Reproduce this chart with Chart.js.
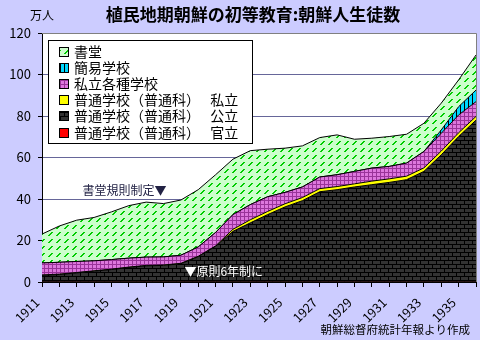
<!DOCTYPE html>
<html lang="ja">
<head>
<meta charset="utf-8">
<title>植民地期朝鮮の初等教育</title>
<script src="https://cdn.jsdelivr.net/npm/chart.js@4.4.1/dist/chart.umd.min.js"></script>
<style>
  html, body { margin: 0; padding: 0; background: #ccccff; }
  #wrap { width: 480px; height: 340px; }
</style>
</head>
<body>
<div id="wrap"><canvas id="chart" width="480" height="340"></canvas></div>
<script>
// 朝鮮人生徒数（万人）, 1911-1936
const years = ["1911","1912","1913","1914","1915","1916","1917","1918","1919","1920","1921","1922","1923",
  "1924","1925","1926","1927","1928","1929","1930","1931","1932","1933","1934","1935","1936"];

const futsuKanritsu = [0.1,0.1,0.1,0.1,0.1,0.1,0.1,0.1,0.1,0.1,0.1,0.1,0.1,
  0.1,0.1,0.1,0.1,0.1,0.1,0.1,0.1,0.1,0.1,0.1,0.1,0.1];
const futsuKoritsu = [3.1,3.5,4.3,5.1,5.9,6.9,7.7,7.9,8.7,12.1,17.1,24.3,28.4,
  32.4,36.1,39.1,43.4,44.4,45.7,46.8,47.9,49.2,53.2,61.2,70.0,77.9];
const futsuShiritsu = [0.2,0.2,0.2,0.2,0.2,0.2,0.2,0.2,0.2,0.2,0.2,1.0,1.5,
  1.5,1.5,1.5,1.5,1.5,1.5,1.7,1.7,1.7,1.7,1.8,1.8,1.8];
const kakushuGakko = [5.8,5.7,5.3,4.8,4.6,4.3,4.0,3.9,3.9,4.5,6.5,7.1,7.3,
  7.1,5.5,5.1,5.6,5.7,6.0,6.3,6.0,6.3,7.9,8.6,8.6,7.1];
const kaniGakko = [0,0,0,0,0,0,0,0,0,0,0,0,0,
  0,0,0,0,0,0,0,0,0,0,1.6,4.0,5.6];
const shodo = [13.9,17.5,19.9,20.9,23.0,25.3,26.5,25.7,26.6,27.6,27.8,26.7,26.0,
  22.9,21.3,19.8,19.0,19.2,15.5,14.4,14.4,13.9,13.6,12.9,12.9,16.9];

const yTicks = [0, 20, 40, 60, 80, 100, 120];

const JP = "'Noto Sans CJK JP', sans-serif";

// hatch fills
function makePattern(w, h, draw) {
  const c = document.createElement('canvas');
  c.width = w; c.height = h;
  const g = c.getContext('2d');
  draw(g);
  return g.createPattern(c, 'repeat');
}

const shodoFill = makePattern(8, 7, g => {
  g.fillStyle = '#ccffcc'; g.fillRect(0, 0, 8, 7);
  g.fillStyle = '#00cc00';
  g.fillRect(0, 4, 2, 1); g.fillRect(1, 3, 2, 1); g.fillRect(2, 2, 2, 1); g.fillRect(3, 1, 2, 1);
});
const kaniFill = makePattern(4, 4, g => {
  g.fillStyle = '#00d8ff'; g.fillRect(0, 0, 4, 4);
  g.fillStyle = '#000'; g.fillRect(0, 0, 1, 4);
});
const kakushuFill = makePattern(4, 4, g => {
  g.fillStyle = '#dd77dd'; g.fillRect(0, 0, 4, 4);
  g.fillStyle = '#993399'; g.fillRect(0, 0, 4, 1); g.fillRect(0, 0, 1, 4);
});
const koritsuFill = makePattern(8, 8, g => {
  g.fillStyle = '#333333'; g.fillRect(0, 0, 8, 8);
  g.fillStyle = '#000';
  g.fillRect(0, 0, 8, 1); g.fillRect(0, 4, 8, 1);
  g.fillRect(0, 0, 1, 4); g.fillRect(4, 4, 1, 4);
});

function layer(label, data, fill, bg) {
  return {
    label, data, fill, backgroundColor: bg,
    borderColor: '#000', borderWidth: 1, pointRadius: 0, tension: 0
  };
}

const datasets = [
  layer('普通学校（普通科）　 官立', futsuKanritsu, 'origin', '#ff0000'),
  layer('普通学校（普通科）　 公立', futsuKoritsu, '-1', koritsuFill),
  layer('普通学校（普通科）　 私立', futsuShiritsu, '-1', '#ffff00'),
  layer('私立各種学校', kakushuGakko, '-1', kakushuFill),
  layer('簡易学校', kaniGakko, '-1', kaniFill),
  layer('書堂', shodo, '-1', shodoFill)
];

const decor = {
  id: 'decor',
  beforeDraw(chart) {
    const { ctx, chartArea: a } = chart;
    ctx.save();
    ctx.fillStyle = '#ccccff';
    ctx.fillRect(0, 0, chart.width, chart.height);
    ctx.fillStyle = '#ffffff';
    ctx.fillRect(a.left, a.top, a.right - a.left, a.bottom - a.top);
    ctx.restore();
  },
  afterDraw(chart) {
    const { ctx, chartArea: a, scales } = chart;
    const x = scales.x, y = scales.y;
    ctx.save();

    // frame on the top and right
    ctx.strokeStyle = '#808080';
    ctx.lineWidth = 1;
    ctx.beginPath();
    ctx.moveTo(a.left, a.top + 0.5);
    ctx.lineTo(a.right + 0.5, a.top + 0.5);
    ctx.lineTo(a.right + 0.5, a.bottom);
    ctx.stroke();

    // title and unit
    ctx.fillStyle = '#000';
    ctx.textBaseline = 'middle';
    ctx.font = 'bold 17px ' + JP;
    ctx.textAlign = 'center';
    ctx.fillText('植民地期朝鮮の初等教育:朝鮮人生徒数', 253, 15);
    ctx.font = '12px ' + JP;
    ctx.textAlign = 'left';
    ctx.fillText('万人', 30, 15);

    // notes
    ctx.font = '12px ' + JP;
    ctx.fillStyle = '#222244';
    ctx.textAlign = 'right';
    ctx.fillText('書堂規則制定▼', x.getPixelForValue(7) + 3, y.getPixelForValue(44));
    ctx.fillStyle = '#ffffff';
    ctx.textAlign = 'left';
    ctx.fillText('▼原則6年制に', x.getPixelForValue(8.55) - 6, y.getPixelForValue(5));

    ctx.fillStyle = '#000';
    ctx.textAlign = 'right';
    ctx.font = '11.5px ' + JP;
    ctx.fillText('朝鮮総督府統計年報より作成', 470, 330);

    // legend
    const bx = 48, by = 40, bw = 204, bh = 103;
    ctx.fillStyle = '#ffffff';
    ctx.fillRect(bx, by, bw, bh);
    ctx.strokeStyle = '#000';
    ctx.strokeRect(bx + 0.5, by + 0.5, bw, bh);
    ctx.font = '14px ' + JP;
    ctx.textAlign = 'left';
    const items = chart.data.datasets.slice().reverse();
    items.forEach((ds, i) => {
      const cy = Math.round(51.5 + i * 16.2);
      ctx.fillStyle = ds.backgroundColor;
      ctx.fillRect(59, cy - 5, 10, 10);
      ctx.strokeStyle = '#000';
      ctx.strokeRect(59.5, cy - 4.5, 9, 9);
      ctx.fillStyle = '#000';
      ctx.fillText(ds.label, 74, cy);
    });
    ctx.restore();
  }
};

new Chart(document.getElementById('chart'), {
  type: 'line',
  data: { labels: years, datasets },
  plugins: [decor],
  options: {
    responsive: false,
    animation: false,
    layout: { padding: { top: 33, right: 4, left: 0, bottom: 0 } },
    plugins: { legend: { display: false }, tooltip: { enabled: false }, title: { display: false } },
    scales: {
      x: {
        offset: false,
        grid: { drawOnChartArea: false, tickLength: 5, tickColor: '#000' },
        border: { color: '#000' },
        ticks: {
          autoSkip: false, maxRotation: 45, minRotation: 45, padding: 8, labelOffset: -5,
          color: '#000', font: { family: JP, size: 12.5 },
          callback: function (v, i) { return i % 2 === 0 ? this.getLabelForValue(v) : ''; }
        },
        afterFit: s => { s.height = 58; s.paddingRight = 0; s.paddingLeft = 0; }
      },
      y: {
        stacked: true, min: 0, max: 120,
        afterBuildTicks: s => { s.ticks = yTicks.map(v => ({ value: v })); },
        grid: {
          color: c => (c.tick && c.tick.value === 120) ? '#808080' : '#666699',
          tickLength: 4, tickColor: '#000'
        },
        border: { color: '#000' },
        ticks: { padding: 7, color: '#000', font: { family: JP, size: 13 } },
        afterFit: s => { s.width = 42; }
      }
    }
  }
});
</script>
</body>
</html>
